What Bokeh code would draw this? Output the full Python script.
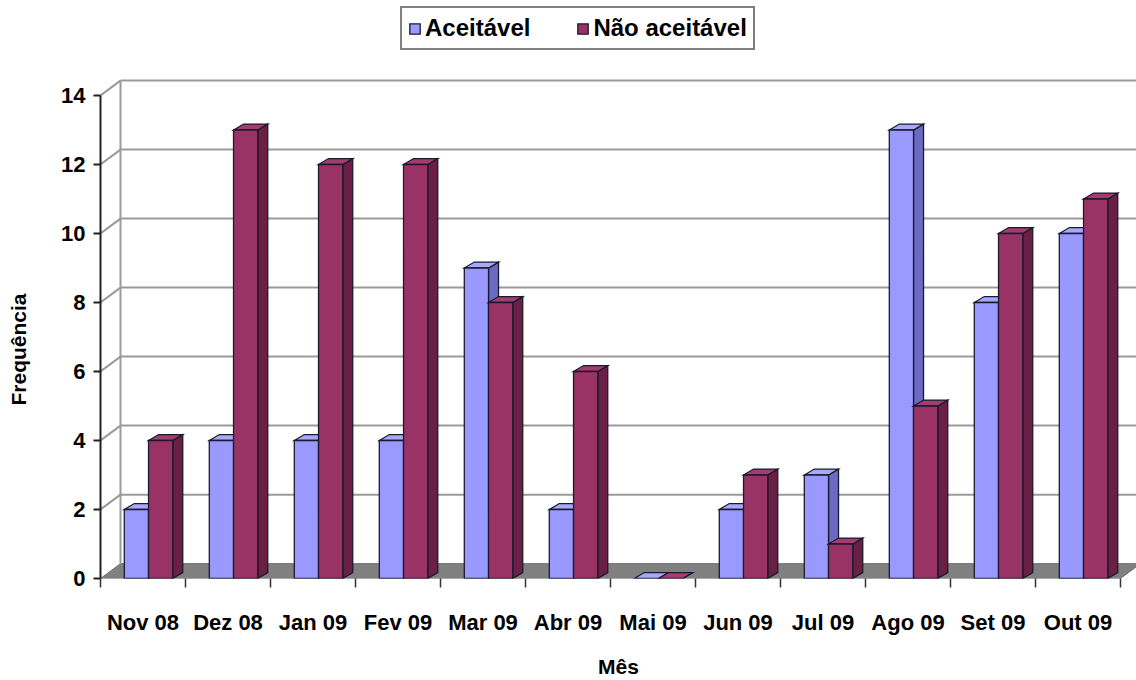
from bokeh.plotting import figure
from bokeh.models import Range1d, FixedTicker, ColumnDataSource, Legend, LegendItem, Title
from bokeh.embed import file_html
from bokeh.resources import INLINE

# ---- data ----
months = ["Nov 08", "Dez 08", "Jan 09", "Fev 09", "Mar 09", "Abr 09",
          "Mai 09", "Jun 09", "Jul 09", "Ago 09", "Set 09", "Out 09"]
aceitavel = [2, 4, 4, 4, 9, 2, 0, 2, 3, 13, 8, 10]
nao_aceitavel = [4, 13, 12, 12, 8, 6, 0, 3, 1, 5, 10, 11]
y_ticks = [0, 2, 4, 6, 8, 10, 12, 14]
series_names = ["Aceitável", "Não aceitável"]

# ---- style / geometry ----
PX_X = 85.0      # pixels per category
PX_Y = 34.8      # pixels per unit
FRAME_W = 1036
FRAME_H = 583
WALL_DX = 20 / PX_X
WALL_DY = 15 / PX_Y
BAR_DX = 10 / PX_X
BAR_DY = 6 / PX_Y
BAR_W = 0.285
BAR_OFF = 0.28
FONT = "Liberation Sans"

colors = {
    "front": ["#9999FF", "#993366"],
    "top": ["#A8A8FF", "#A33D70"],
    "side": ["#6B6BC2", "#6A1F45"],
}

p = figure(width=1136, height=680, output_backend="svg", toolbar_location=None,
           x_range=Range1d(0, FRAME_W / PX_X), y_range=Range1d(0, FRAME_H / PX_Y),
           min_border_left=100, min_border_right=0, min_border_top=0,
           min_border_bottom=97)
p.outline_line_color = None
p.xgrid.visible = False
p.ygrid.visible = False
p.background_fill_color = "white"
p.border_fill_color = "white"

n = len(months)
top_val = y_ticks[-1]

# floor
p.patch([0, n, n + WALL_DX, WALL_DX], [0, 0, WALL_DY, WALL_DY],
        fill_color="#808080", line_color="#707070", line_width=1)

# back wall gridlines + left wall diagonals
gx0, gy0, gx1, gy1 = [], [], [], []
for v in y_ticks[1:]:
    gx0.append(WALL_DX); gy0.append(v + WALL_DY)
    gx1.append(n + 1); gy1.append(v + WALL_DY)
    gx0.append(0); gy0.append(v)
    gx1.append(WALL_DX); gy1.append(v + WALL_DY)
gx0.append(WALL_DX); gy0.append(WALL_DY)
gx1.append(WALL_DX); gy1.append(top_val + WALL_DY)
p.segment(gx0, gy0, gx1, gy1, line_color="#9A9A9A", line_width=2)

# bars (3D boxes)
xs, ys, fills = [], [], []
front_index = [None, None]
for i in range(n):
    for s, vals in enumerate([aceitavel, nao_aceitavel]):
        v = vals[i]
        x0 = i + BAR_OFF + s * BAR_W
        x1 = x0 + BAR_W
        # side
        xs.append([x1, x1 + BAR_DX, x1 + BAR_DX, x1])
        ys.append([0, BAR_DY, v + BAR_DY, v])
        fills.append(colors["side"][s])
        # top
        xs.append([x0, x1, x1 + BAR_DX, x0 + BAR_DX])
        ys.append([v, v, v + BAR_DY, v + BAR_DY])
        fills.append(colors["top"][s])
        # front
        if v > 0:
            xs.append([x0, x1, x1, x0])
            ys.append([0, 0, v, v])
            fills.append(colors["front"][s])
            if front_index[s] is None:
                front_index[s] = len(xs) - 1
src = ColumnDataSource(dict(xs=xs, ys=ys, fill=fills))
bars = p.patches("xs", "ys", source=src, fill_color="fill", line_color="#1A1A2E",
                 line_width=1.3, line_join="miter")

legend = Legend(items=[LegendItem(label=series_names[0], renderers=[bars], index=front_index[0]),
                       LegendItem(label=series_names[1], renderers=[bars], index=front_index[1])],
                orientation="horizontal", location=(300, 528))
legend.margin = 0
legend.padding = 6
legend.spacing = 46
legend.label_standoff = 4
legend.glyph_width = 13
legend.glyph_height = 13
legend.label_text_font = FONT
legend.label_text_font_style = "bold"
legend.label_text_font_size = "24px"
legend.label_text_color = "black"
legend.border_line_color = "black"
legend.border_line_width = 2
legend.background_fill_color = "white"
legend.background_fill_alpha = 1
legend.click_policy = "none"
p.add_layout(legend, "center")

# y axis
ya = p.yaxis[0]
ya.ticker = FixedTicker(ticks=y_ticks)
ya.bounds = (0, top_val)
ya.major_tick_out = 7
ya.major_tick_in = 0
ya.minor_tick_line_color = None
ya.major_label_standoff = 8
ya.axis_line_color = "#222222"
ya.axis_line_width = 2
ya.major_tick_line_color = "#222222"
ya.major_tick_line_width = 2
ya.major_label_text_font = FONT
ya.major_label_text_font_style = "bold"
ya.major_label_text_font_size = "22px"
ya.major_label_text_color = "black"
# blank axis label used only as spacing between tick labels and the title
ya.axis_label = " "
ya.axis_label_text_font_size = "2px"
ya.axis_label_standoff = 18

ytitle = Title(text="Frequência", align="left", offset=173, vertical_align="top",
               text_font=FONT, text_font_style="bold", text_font_size="21px",
               text_color="black", standoff=6)
p.add_layout(ytitle, "left")

# x axis
xa = p.xaxis[0]
centers = [i + 0.5 for i in range(n)]
xa.ticker = FixedTicker(ticks=centers, minor_ticks=list(range(n + 1)))
xa.major_label_overrides = {c: m for c, m in zip(centers, months)}
xa.bounds = (0, n)
xa.axis_line_color = None
xa.major_tick_line_color = None
xa.major_tick_out = 0
xa.major_tick_in = 0
xa.minor_tick_out = 9
xa.minor_tick_in = 0
xa.minor_tick_line_color = "#333333"
xa.minor_tick_line_width = 1.5
xa.major_label_standoff = 22
xa.major_label_text_font = FONT
xa.major_label_text_font_style = "bold"
xa.major_label_text_font_size = "22px"
xa.major_label_text_color = "black"
xa.axis_label = "Mês"
xa.axis_label_text_font = FONT
xa.axis_label_text_font_style = "bold"
xa.axis_label_text_font_size = "21px"
xa.axis_label_text_color = "black"
xa.axis_label_standoff = 17

open("out.html", "w").write(file_html(p, INLINE))
